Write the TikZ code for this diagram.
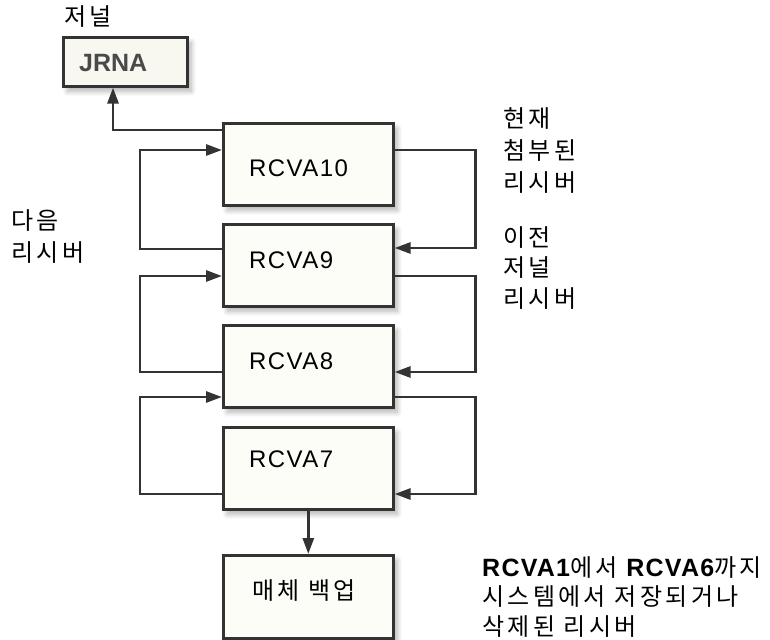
\documentclass[tikz,border=0pt]{standalone}
\usepackage{fontspec}
\setmainfont{Liberation Sans}
\newfontfamily\kr[LetterSpace=14]{Noto Sans CJK KR}
\newfontfamily\lb[LetterSpace=5]{Liberation Sans}
\usetikzlibrary{arrows.meta,calc,shadows.blur}
\definecolor{linec}{HTML}{333333}
\definecolor{boxfill}{HTML}{FDFDF8}
\definecolor{jfill}{HTML}{F8F8F1}
\definecolor{jtext}{HTML}{4A4A4A}
\begin{document}
\begin{tikzpicture}[x=1pt,y=-1pt,
  box/.style={draw=linec, line width=2.6pt, fill=boxfill, minimum width=170pt, minimum height=82pt, inner sep=0pt, anchor=north west,
    blur shadow={shadow xshift=4pt, shadow yshift=-5pt, shadow blur steps=8, shadow blur radius=5pt, shadow opacity=30}},
  conn/.style={draw=linec, line width=2.8pt},
  arr/.style={-{Triangle[length=16pt,width=11pt]}},
  lbl/.style={font=\fontsize{24}{28}\selectfont\addfontfeature{LetterSpace=6}, inner sep=0pt, anchor=west},
  klbl/.style={font=\kr\fontsize{24}{32}\selectfont, inner sep=0pt, anchor=base west, align=left},
]
\useasboundingbox (0,0) rectangle (770,639);
% boxes
\node[box, minimum width=124pt, minimum height=49pt, fill=jfill] (jrna) at (62,36) {};
\node[font=\bfseries\fontsize{25}{28}\selectfont, text=jtext, inner sep=0pt, anchor=west] (jt) at ($(jrna.north west)+(17,27)$) {JRNA};
\node[box] (r10) at (222,122) {};
\node[box] (r9) at (222,223) {};
\node[box] (r8) at (222,324) {};
\node[box] (r7) at (222,426) {};
\node[box, minimum height=83pt] (bk) at (222,554) {};
\node[lbl] (t10) at ($(r10.north west)+(27,46)$) {RCVA10};
\node[lbl] (t9) at ($(r9.north west)+(27,37)$) {RCVA9};
\node[lbl] (t8) at ($(r8.north west)+(27,37)$) {RCVA8};
\node[lbl] (t7) at ($(r7.north west)+(27,33)$) {RCVA7};
\node[klbl] (tb) at ($(bk.north west)+(30,45)$) {매체 백업};
% labels (base = baseline of the last line)
\node[klbl] (lj) at (64,26) {저널};
\node[klbl] (lc) at (503,191) {현재\\첨부된\\리시버};
\node[klbl, font=\kr\fontsize{24}{30.5}\selectfont] (lp) at (503,307) {이전\\저널\\리시버};
\node[klbl] (ln) at (11,261) {다음\\리시버};
\node[klbl, font=\kr\fontsize{24}{29.5}\selectfont] (ld) at (482,635) {{\lb\bfseries\fontsize{25}{29.5}\selectfont RCVA1}에서 {\lb\bfseries\fontsize{25}{29.5}\selectfont RCVA6}까지\\시스템에서 저장되거나\\삭제된 리시버};
% connectors
\draw[conn,arr] ($(r10.north west)+(0,8)$) -| ($(jrna.south west)+(51,0)$);
\draw[conn,arr] ($(r9.north west)+(0,26)$) -- ++(-82,0) |- ($(r10.north west)+(0,28)$);
\draw[conn,arr] ($(r8.north west)+(0,48)$) -- ++(-82,0) |- ($(r9.north west)+(0,53)$);
\draw[conn,arr] ($(r7.north west)+(0,68)$) -- ++(-82,0) |- ($(r8.north west)+(0,73)$);
\draw[conn,arr] ($(r10.north east)+(0,28)$) -- ++(81,0) |- ($(r9.north east)+(0,25)$);
\draw[conn,arr] ($(r9.north east)+(0,53)$) -- ++(81,0) |- ($(r8.north east)+(0,48)$);
\draw[conn,arr] ($(r8.north east)+(0,73)$) -- ++(81,0) |- ($(r7.north east)+(0,68)$);
\draw[conn,arr] (r7.south) -- (bk.north);
\end{tikzpicture}
\end{document}
